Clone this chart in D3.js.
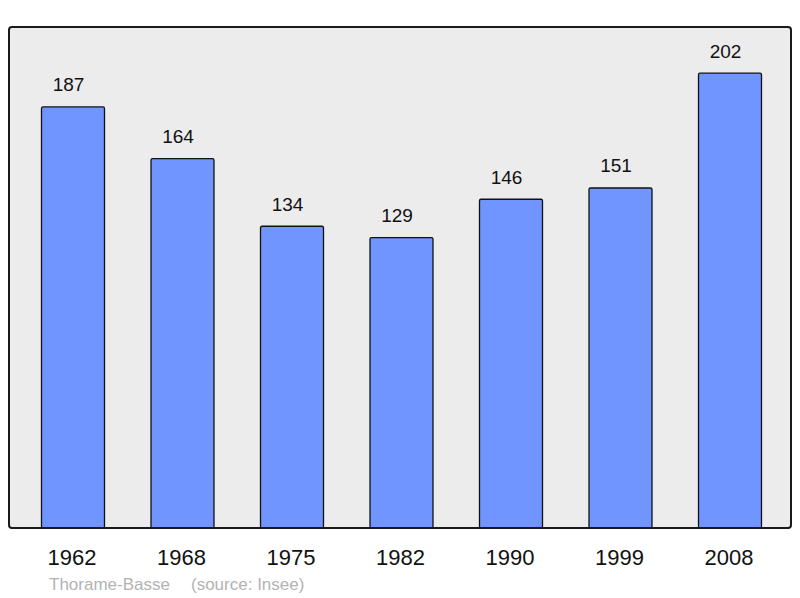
<!DOCTYPE html>
<html lang="fr">
<head>
    <meta charset="UTF-8">
    <title>Thorame-Basse population</title>
    <script src="https://d3js.org/d3.v7.min.js"></script>
    <style>
        body { margin: 0; background: #fff; }
        svg { display: block; font-family: "Liberation Sans", Arial, sans-serif; }
    </style>
</head>
<body>
    <div id="chart"></div>
    <script>
        // Data
        const years = ["1962", "1968", "1975", "1982", "1990", "1999", "2008"];
        const population = [187, 164, 134, 129, 146, 151, 202];
        const data = years.map((y, i) => ({year: y, value: population[i]}));

        const width = 800, height = 598;
        const frame = {left: 9, top: 27, right: 791, bottom: 528};

        const svg = d3.select("#chart").append("svg")
            .attr("width", width)
            .attr("height", height);

        // Scales
        const x = d3.scaleBand()
            .domain(years)
            .range([18.25, 784.75])
            .paddingInner(0.4247)
            .paddingOuter(0.2124);

        const y = d3.scaleLinear()
            .domain([0, 222.5])
            .range([frame.bottom, frame.top]);

        // Plot background frame
        svg.append("rect")
            .attr("x", frame.left)
            .attr("y", frame.top)
            .attr("width", frame.right - frame.left)
            .attr("height", frame.bottom - frame.top)
            .attr("rx", 3)
            .style("fill", "#ececec")
            .style("stroke", "#1a1a1a")
            .style("stroke-width", 2);

        // Bars
        svg.append("g")
            .selectAll("rect")
            .data(data)
            .join("rect")
                .attr("x", d => x(d.year))
                .attr("y", d => y(d.value))
                .attr("width", x.bandwidth())
                .attr("height", d => frame.bottom - y(d.value))
                .attr("rx", 1.5)
                .style("fill", "#7095ff")
                .style("stroke", "#111")
                .style("stroke-width", 1.3);

        // Redraw bottom edge of frame over bars
        svg.append("line")
            .attr("x1", frame.left + 2)
            .attr("x2", frame.right - 2)
            .attr("y1", frame.bottom)
            .attr("y2", frame.bottom)
            .style("stroke", "#1a1a1a")
            .style("stroke-width", 2);

        // Value labels (sit a little left of bar centre, as in the original)
        svg.append("g")
            .selectAll("text")
            .data(data)
            .join("text")
                .attr("x", d => x(d.year) + x.bandwidth() / 2 - 4.5)
                .attr("y", d => y(d.value) - 15.5)
                .style("text-anchor", "middle")
                .style("font-size", "19px")
                .style("fill", "#111")
                .text(d => d.value);

        // Year axis labels
        const xAxis = d3.axisBottom(x).tickSize(0).tickPadding(0);
        const gX = svg.append("g")
            .attr("transform", `translate(0,${frame.bottom})`)
            .call(xAxis);
        gX.select(".domain").remove();
        gX.selectAll("text")
            .attr("dy", null)
            .attr("x", -1)
            .attr("y", 37)
            .style("font-family", "Liberation Sans, Arial, sans-serif")
            .style("font-size", "22px")
            .style("fill", "#111");

        // Source line
        svg.append("text")
            .attr("x", 49)
            .attr("y", 590)
            .style("font-size", "17px")
            .style("fill", "#b3b3b3")
            .text("Thorame-Basse");

        svg.append("text")
            .attr("x", 191)
            .attr("y", 590)
            .style("font-size", "17px")
            .style("fill", "#b3b3b3")
            .text("(source: Insee)");
    </script>
</body>
</html>
